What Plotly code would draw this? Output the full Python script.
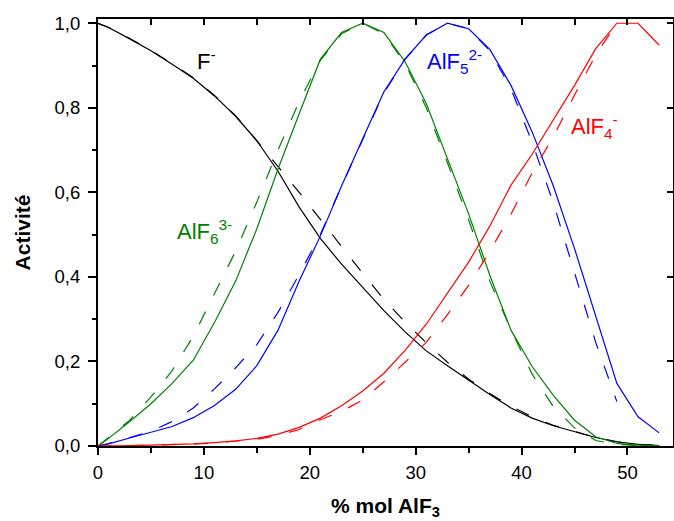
import plotly.graph_objects as go

# % mol AlF3 sample points
x_pts = [0, 1, 3, 5, 7, 9, 11, 13, 15, 17, 19, 21, 23, 25, 27, 29, 31, 33, 35, 37, 39, 41, 43, 45, 47, 49, 51, 53]
x_short = x_pts[:26]  # up to 49

f_solid = [1.0, 0.99, 0.963, 0.935, 0.903, 0.870, 0.828, 0.780, 0.722, 0.650, 0.565, 0.491, 0.43, 0.375,
           0.32, 0.27, 0.225, 0.19, 0.155, 0.122, 0.090, 0.066, 0.048, 0.034, 0.02, 0.01, 0.004, 0.001]
f_dash = [1.0, 0.99, 0.964, 0.936, 0.904, 0.871, 0.829, 0.781, 0.722, 0.662, 0.600, 0.536, 0.471, 0.408,
          0.347, 0.293, 0.244, 0.198, 0.158, 0.124, 0.094, 0.069, 0.049, 0.034, 0.02, 0.01, 0.004, 0.001]

alf6_solid = [0, 0.018, 0.058, 0.10, 0.148, 0.203, 0.292, 0.39, 0.514, 0.655, 0.786, 0.915, 0.978, 1.0,
              0.978, 0.909, 0.81, 0.68, 0.549, 0.404, 0.274, 0.188, 0.12, 0.061, 0.022, 0.006, 0.002, 0.0]
alf6_dash = [0, 0.02, 0.061, 0.116, 0.178, 0.26, 0.36, 0.461, 0.577, 0.70, 0.815, 0.912, 0.975, 1.0,
             0.975, 0.905, 0.80, 0.67, 0.535, 0.39, 0.275, 0.17, 0.093, 0.043, 0.013, 0.004, 0.001, 0.0]

alf5_solid = [0, 0.005, 0.019, 0.032, 0.046, 0.067, 0.096, 0.134, 0.19, 0.274, 0.39, 0.497, 0.615, 0.727,
              0.838, 0.915, 0.972, 1.0, 0.987, 0.938, 0.853, 0.743, 0.615, 0.467, 0.31, 0.148, 0.069, 0.031]
alf5_dash = [0, 0.006, 0.02, 0.035, 0.058, 0.09, 0.135, 0.185, 0.24, 0.316, 0.406, 0.5, 0.615, 0.727,
             0.835, 0.915, 0.972, 1.0, 0.987, 0.935, 0.845, 0.718, 0.575, 0.41, 0.245, 0.105]

alf4_solid = [0, 0.0, 0.001, 0.002, 0.003, 0.005, 0.008, 0.012, 0.018, 0.028, 0.044, 0.066, 0.095, 0.13,
              0.172, 0.226, 0.288, 0.362, 0.435, 0.52, 0.617, 0.69, 0.77, 0.853, 0.94, 1.0, 1.0, 0.948]
alf4_dash = [0, 0.0, 0.001, 0.002, 0.003, 0.005, 0.007, 0.011, 0.016, 0.025, 0.039, 0.062, 0.082, 0.109,
             0.152, 0.198, 0.245, 0.311, 0.38, 0.46, 0.548, 0.646, 0.732, 0.83, 0.925, 1.0]

x_ticks = [0, 10, 20, 30, 40, 50]
x_minor = [5, 15, 25, 35, 45]
y_ticks = [0, 0.2, 0.4, 0.6, 0.8, 1.0]
y_minor = [0.1, 0.3, 0.5, 0.7, 0.9]

BLACK = "#000000"
GREEN = "#008000"
BLUE = "#0000FF"
RED = "#FF0000"
LW = 1.2
DASH = "14px,18px"

fig = go.Figure()
series = [
    (x_pts, f_dash, BLACK, DASH), (x_pts, f_solid, BLACK, "solid"),
    (x_pts, alf6_dash, GREEN, DASH), (x_pts, alf6_solid, GREEN, "solid"),
    (x_short, alf5_dash, BLUE, DASH), (x_pts, alf5_solid, BLUE, "solid"),
    (x_short, alf4_dash, RED, DASH), (x_pts, alf4_solid, RED, "solid"),
]
for xs, ys, c, d in series:
    fig.add_trace(go.Scatter(x=xs, y=ys, mode="lines",
                             line=dict(color=c, width=LW, dash=d), hoverinfo="skip"))

# empty trace registering the mirror axes
fig.add_trace(go.Scatter(x=[], y=[], xaxis="x2", yaxis="y2", mode="lines"))

XR = [0, 54.3]
YR = [0, 1.01]
FONT = "Liberation Sans, Arial, sans-serif"

fig.update_layout(
    width=674, height=521,
    margin=dict(l=98, r=1, t=19, b=75),
    paper_bgcolor="white", plot_bgcolor="white",
    separators=", ",
    showlegend=False,
    font=dict(family=FONT, size=18, color="black"),
    xaxis=dict(range=XR, tickvals=x_ticks, ticks="outside", ticklen=7, tickwidth=2, tickcolor="black",
               showline=True, linewidth=2, linecolor="black", showgrid=False, zeroline=False,
               automargin=False, tickfont=dict(size=18.5), ticklabelstandoff=2,
               minor=dict(tickvals=x_minor, ticks="outside", ticklen=5, tickwidth=2, tickcolor="black"),
               title=dict(text="<b>% mol AlF<sub>3</sub></b>", font=dict(size=21), standoff=16)),
    yaxis=dict(range=YR, tickvals=y_ticks, tickformat=".1f", ticks="outside", ticklen=8, tickwidth=2,
               tickcolor="black", showline=True, linewidth=2, linecolor="black", showgrid=False,
               zeroline=False, automargin=False, tickfont=dict(size=18.5), ticklabelstandoff=4,
               minor=dict(tickvals=y_minor, ticks="outside", ticklen=4, tickwidth=2, tickcolor="black"),
               title=dict(text="<b>Activité</b>", font=dict(size=21), standoff=18)),
    xaxis2=dict(range=XR, overlaying="x", side="top", anchor="y", tickvals=x_ticks + x_minor,
                ticks="inside", ticklen=6, tickwidth=2, tickcolor="black", showticklabels=False,
                automargin=False,
                showline=True, linewidth=2, linecolor="black", showgrid=False, zeroline=False),
    yaxis2=dict(range=YR, overlaying="y", side="right", anchor="x", tickvals=y_ticks,
                ticks="inside", ticklen=6, tickwidth=2, tickcolor="black", showticklabels=False,
                automargin=False,
                showline=True, linewidth=2, linecolor="black", showgrid=False, zeroline=False),
)

ann_font = 22
annots = [
    ("F<sup>-</sup>", 9.16, 0.913, BLACK),
    ("AlF<sub>6</sub><sup>3-</sup>", 7.27, 0.507, GREEN),
    ("AlF<sub>5</sub><sup>2-</sup>", 30.85, 0.91, BLUE),
    ("AlF<sub>4</sub><sup>-</sup>", 44.5, 0.755, RED),
]
for txt, ax_, ay_, c in annots:
    fig.add_annotation(x=ax_, y=ay_, xref="x", yref="y", text=txt, showarrow=False,
                       xanchor="left", yanchor="middle", font=dict(size=ann_font, color=c, family=FONT))

fig.write_html("out.html", config={"displayModeBar": False},
               post_script="document.body.style.margin='0';document.body.style.overflow='hidden';")
